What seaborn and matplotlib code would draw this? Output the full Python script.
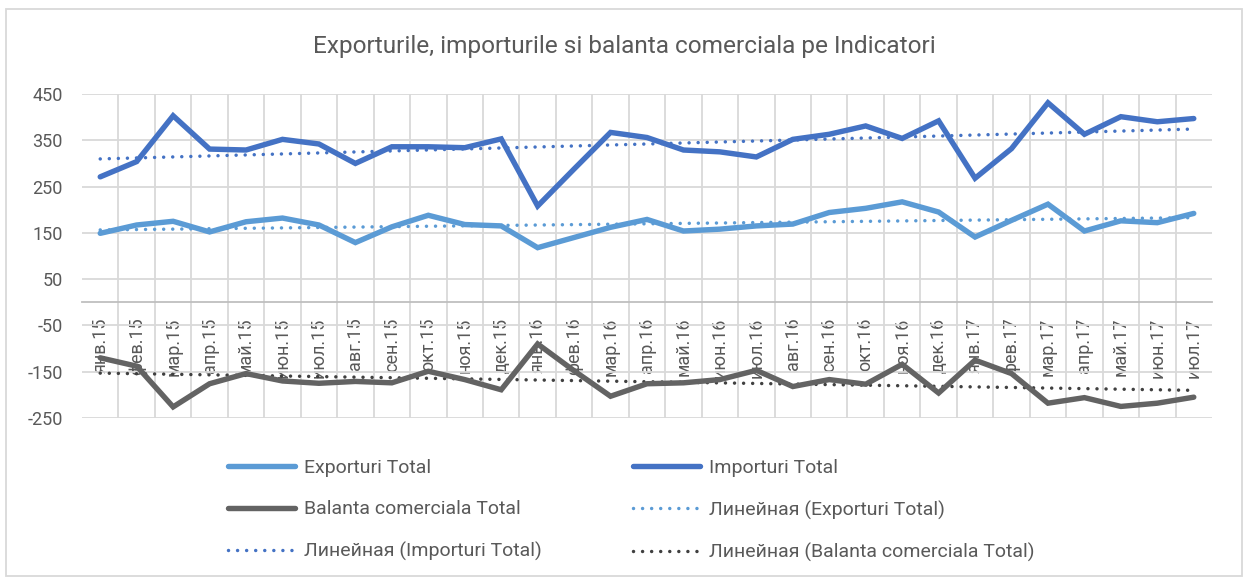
import numpy as np
import pandas as pd
import matplotlib
matplotlib.use("Agg")
import matplotlib.pyplot as plt
import seaborn as sns
from matplotlib.patches import Rectangle

# Monthly values, Jan 2015 - Jul 2017
months = ['янв', 'фев', 'мар', 'апр', 'май', 'июн', 'июл', 'авг', 'сен', 'окт', 'ноя', 'дек']
years = ['15', '16', '17']
labels = [f"{m}.{y}" for y in years for m in months][:31]

exports = [149, 167, 175, 152, 174, 182, 167, 129, 163, 188, 168, 165,
           118, 140, 162, 179, 154, 158, 165, 169, 194, 203, 217, 195,
           141, 177, 212, 154, 176, 172, 192]
imports = [271, 304, 403, 331, 329, 352, 342, 300, 336, 336, 334, 353,
           208, 288, 367, 356, 329, 325, 314, 352, 363, 381, 354, 392,
           268, 332, 431, 363, 401, 390, 397]
balance = [-120, -138, -226, -176, -154, -170, -175, -171, -174, -149, -167, -189,
           -90, -148, -203, -176, -174, -167, -147, -182, -167, -177, -134, -196,
           -125, -154, -218, -206, -225, -218, -205]

series_names = ['Exporturi Total', 'Importuri Total', 'Balanta comerciala Total']
series_vals = [exports, imports, balance]
line_colors = ['#5B9BD5', '#4472C4', '#636363']
trend_colors = ['#5B9BD5', '#4472C4', '#404040']

sns.set_theme(style="white")
plt.rcParams['font.family'] = ['Roboto', 'DejaVu Sans']
plt.rcParams['axes.unicode_minus'] = False
text_col = '#595959'
grid_col = '#d9d9d9'

fig = plt.figure(figsize=(12.46, 5.80), dpi=100)
ax = fig.add_axes([82 / 1246, 1 - 418 / 580, 1130 / 1246, 324 / 580])

idx = np.arange(len(labels))
handles = {}
for name, vals, c, tc in zip(series_names, series_vals, line_colors, trend_colors):
    df = pd.DataFrame({'i': idx, 'v': vals})
    sns.lineplot(data=df, x='i', y='v', ax=ax, color=c, lw=3.9,
                 solid_joinstyle='miter', zorder=3)
    handles[name] = ax.lines[-1]
    # linear trend line (as Excel "Линейная")
    k, b = np.polyfit(idx, vals, 1)
    df['t'] = k * idx + b
    sns.lineplot(data=df, x='i', y='t', ax=ax, color=tc, lw=2.5,
                 linestyle=(0, (0.01, 2.6)), dash_capstyle='round', zorder=2.8)
    handles['Линейная (' + name + ')'] = ax.lines[-1]

ax.set_xlim(-0.5, len(labels) - 0.5)
ax.set_ylim(-250, 450)
ax.set_yticks(np.arange(-250, 451, 100))
ax.set_xticks(idx)
ax.set_xticklabels(labels)
ax.set_xticks(idx[:-1] + 0.5, minor=True)
ax.set_xlabel('')
ax.set_ylabel('')

ax.grid(True, axis='y', color=grid_col, lw=1.3)
ax.grid(True, axis='x', which='minor', color=grid_col, lw=1.3)
ax.grid(False, axis='x', which='major')
ax.set_axisbelow(True)

for s in ['left', 'right', 'top']:
    ax.spines[s].set_visible(False)
ax.spines['bottom'].set_position(('data', 0))
ax.spines['bottom'].set_color('#bfbfbf')
ax.spines['bottom'].set_linewidth(1.3)

ax.tick_params(axis='x', which='major', length=0, pad=11, labelsize=13,
               colors=text_col, labelrotation=90)
ax.tick_params(axis='x', which='minor', length=4, width=1.3, color='#bfbfbf', direction='out')
ax.tick_params(axis='y', length=0, pad=14, labelsize=13, colors=text_col)

fig.text(624 / 1246, 1 - 47 / 580, 'Exporturile, importurile si balanta comerciala pe Indicatori',
         ha='center', va='center', fontsize=17.6, color=text_col)

# legend, two columns placed like the original
leg_kw = dict(loc='upper left', frameon=False, fontsize=14, handlelength=3.45,
              handletextpad=0.45, labelspacing=1.2, borderpad=0, borderaxespad=0,
              labelcolor=text_col)
col1 = ['Exporturi Total', 'Balanta comerciala Total', 'Линейная (Importuri Total)']
col2 = ['Importuri Total', 'Линейная (Exporturi Total)', 'Линейная (Balanta comerciala Total)']
leg1 = fig.legend([handles[n] for n in col1], col1, bbox_to_anchor=(228 / 1246, 1 - 459 / 580), **leg_kw)
leg2 = fig.legend([handles[n] for n in col2], col2, bbox_to_anchor=(633 / 1246, 1 - 459 / 580), **leg_kw)

fig.patches.append(Rectangle((6 / 1246, 4 / 580), 1236 / 1246, 567 / 580, transform=fig.transFigure,
                             fill=False, edgecolor=grid_col, lw=1.3))

fig.savefig('out.png', dpi=100)
